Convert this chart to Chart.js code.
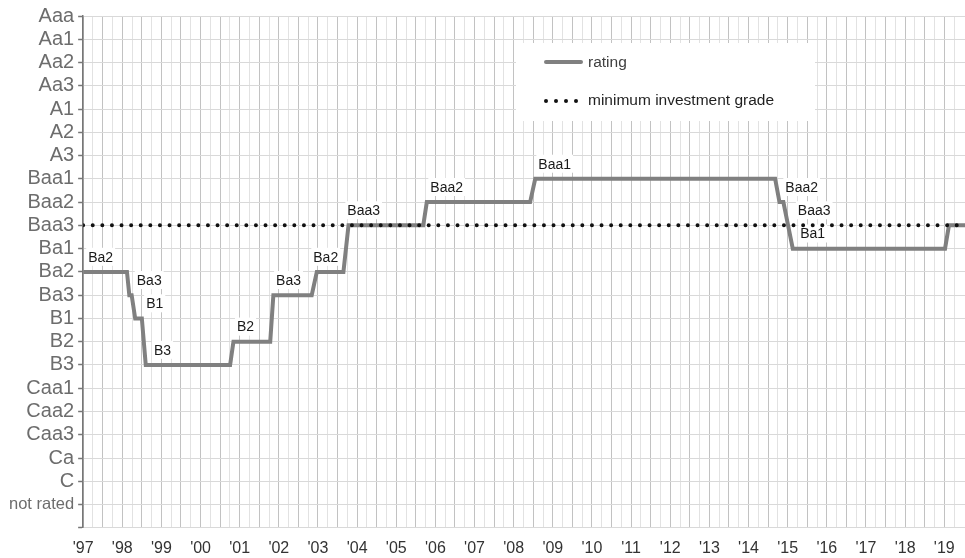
<!DOCTYPE html>
<html>
<head>
<meta charset="utf-8">
<script src="https://cdn.jsdelivr.net/npm/chart.js@4"></script>
<style>
  body { margin: 0; background: #fff; }
  canvas { display: block; }
</style>
</head>
<body>
<canvas id="ratingChart" width="965" height="558"></canvas>
<script>
// rating scale from bottom to top
const ratingScale = ['not rated', 'C', 'Ca', 'Caa3', 'Caa2', 'Caa1', 'B3', 'B2', 'B1', 'Ba3', 'Ba2', 'Ba1',
  'Baa3', 'Baa2', 'Baa1', 'A3', 'A2', 'A1', 'Aa3', 'Aa2', 'Aa1', 'Aaa']

const yearLabels = ["'97", "'98", "'99", "'00", "'01", "'02", "'03", "'04", "'05", "'06", "'07", "'08",
  "'09", "'10", "'11", "'12", "'13", "'14", "'15", "'16", "'17", "'18", "'19"]

// rating history (decimal year, rating)
const ratingDates = [1997.0, 1998.12, 1998.18, 1998.24, 1998.33, 1998.50, 1998.60, 2000.755, 2000.84,
  2001.78, 2001.86, 2002.84, 2002.97, 2003.65, 2003.78, 2005.69, 2005.78, 2008.42, 2008.55, 2014.68,
  2014.79, 2014.89, 2015.01, 2015.13, 2019.02, 2019.12, 2019.53]
const ratings = ['Ba2', 'Ba2', 'Ba3', 'Ba3', 'B1', 'B1', 'B3', 'B3', 'B2',
  'B2', 'Ba3', 'Ba3', 'Ba2', 'Ba2', 'Baa3', 'Baa3', 'Baa2', 'Baa2', 'Baa1', 'Baa1',
  'Baa2', 'Baa2', 'Baa3', 'Ba1', 'Ba1', 'Baa3', 'Baa3']

const gradeDates = [1997.0, 2019.53]
const minimumGrade = 'Baa3'

// text labels written next to each rating change
const labelTexts = ['Ba2', 'Ba3', 'B1', 'B3', 'B2', 'Ba3', 'Ba2', 'Baa3', 'Baa2', 'Baa1', 'Baa2', 'Baa3', 'Ba1']
const labelDates = [1997.13, 1998.37, 1998.61, 1998.81, 2000.93, 2001.93, 2002.88, 2003.75, 2005.87,
  2008.63, 2014.94, 2015.26, 2015.32]

const level = (name) => ratingScale.indexOf(name)

const pointLabels = {
  id: 'pointLabels',
  beforeDatasetsDraw(chart) {
    const { ctx, scales } = chart
    ctx.save()
    ctx.font = '14px "Liberation Sans", Arial, sans-serif'
    ctx.textBaseline = 'middle'
    labelTexts.forEach((text, i) => {
      const x = scales.x.getPixelForValue(labelDates[i])
      const y = scales.y.getPixelForValue(level(text) + 0.65)
      const w = ctx.measureText(text).width
      ctx.fillStyle = '#fff'
      ctx.fillRect(x - 2, y - 9, w + 4, 18)
      ctx.fillStyle = '#1a1a1a'
      ctx.fillText(text, x, y + 1)
    })
    ctx.restore()
  }
}

const boxLegend = {
  id: 'boxLegend',
  afterDraw(chart) {
    const ctx = chart.ctx
    const [rating, grade] = chart.data.datasets
    ctx.save()
    ctx.fillStyle = '#fff'
    ctx.fillRect(516, 43, 299, 78)

    ctx.strokeStyle = rating.borderColor
    ctx.lineWidth = 4
    ctx.lineCap = 'round'
    ctx.beginPath()
    ctx.moveTo(546, 62)
    ctx.lineTo(581, 62)
    ctx.stroke()

    ctx.fillStyle = grade.borderColor
    for (let i = 0; i < 4; i++) {
      ctx.beginPath()
      ctx.arc(546 + i * 10, 101, 2, 0, Math.PI * 2)
      ctx.fill()
    }

    ctx.font = '15.5px "Liberation Sans", Arial, sans-serif'
    ctx.textBaseline = 'middle'
    ctx.fillStyle = '#404040'
    ctx.fillText(rating.label, 588, 63)
    ctx.fillStyle = '#1f1f1f'
    ctx.fillText(grade.label, 588, 101)
    ctx.restore()
  }
}

Chart.defaults.font.family = '"Liberation Sans", Arial, sans-serif'

new Chart(document.getElementById('ratingChart').getContext('2d'), {
  type: 'line',
  data: {
    datasets: [
      {
        label: 'rating',
        data: ratingDates.map((d, i) => ({ x: d, y: level(ratings[i]) })),
        borderColor: '#808080',
        borderWidth: 4,
        pointRadius: 0,
        tension: 0,
        order: 2
      },
      {
        label: 'minimum investment grade',
        data: gradeDates.map((d) => ({ x: d, y: level(minimumGrade) })),
        borderColor: '#111111',
        borderWidth: 4,
        borderDash: [0, 9.6],
        borderCapStyle: 'round',
        pointRadius: 0,
        order: 1
      }
    ]
  },
  options: {
    responsive: false,
    animation: false,
    layout: { autoPadding: false, padding: { left: 5, right: 0, top: 3, bottom: 0 } },
    plugins: {
      legend: { display: false },
      tooltip: { enabled: false }
    },
    scales: {
      x: {
        type: 'linear',
        min: 1997,
        max: 2019.53,
        grid: {
          drawTicks: true,
          tickLength: 11,
          tickColor: 'rgba(0,0,0,0)',
          color: (c) => {
            const v = c.tick ? c.tick.value : 0
            return Math.abs(v * 2 - Math.round(v * 2)) < 0.001 ? '#c2c2c2' : '#e2e2e2'
          },
          lineWidth: 1
        },
        border: { display: false },
        ticks: {
          stepSize: 0.25,
          autoSkip: false,
          maxRotation: 0,
          minRotation: 0,
          padding: 0,
          color: '#333',
          font: { size: 16 },
          callback: (v) => Number.isInteger(v) ? yearLabels[v - 1997] : ''
        }
      },
      y: {
        type: 'linear',
        min: -1,
        max: 21,
        grid: {
          color: '#d9d9d9',
          tickColor: '#777',
          tickLength: 5,
          tickWidth: 1.5
        },
        border: { display: true, color: '#777', width: 1.5 },
        ticks: {
          stepSize: 1,
          autoSkip: false,
          padding: 4,
          color: '#6d6d6d',
          font: (c) => {
            const v = c.tick ? c.tick.value : 1
            return { size: v < 0 ? 1 : v === 0 ? 16.5 : 20 }
          },
          callback: (v) => v >= 0 ? ratingScale[v] : ''
        }
      }
    }
  },
  plugins: [pointLabels, boxLegend]
})
</script>
</body>
</html>
